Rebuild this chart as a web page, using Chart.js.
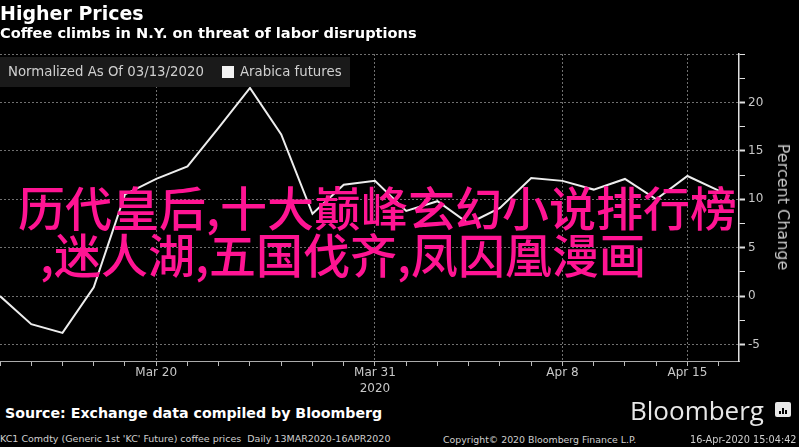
<!DOCTYPE html>
<html><head><meta charset="utf-8">
<script src="https://cdn.jsdelivr.net/npm/chart.js@4/dist/chart.umd.min.js"></script>
<style>
html,body{margin:0;padding:0;background:#000;width:799px;height:447px;overflow:hidden;position:relative;}
#wrap{position:absolute;left:0;top:0;width:799px;height:400px;}
.t{position:absolute;white-space:nowrap;font-family:'DejaVu Sans',sans-serif;line-height:1;}
.pk{position:absolute;white-space:nowrap;font-family:'Noto Sans CJK SC',sans-serif;font-weight:500;font-size:47px;line-height:47px;color:#ff1493;}
</style></head><body>
<div id="wrap"><canvas id="c"></canvas></div>

<div class="t" style="left:0;top:4px;font-size:19px;font-weight:bold;color:#fff">Higher Prices</div>
<div class="t" style="left:0;top:26px;font-size:14.6px;font-weight:bold;color:#fff">Coffee climbs in N.Y. on threat of labor disruptions</div>

<div style="position:absolute;left:0;top:57px;width:350px;height:30px;background:#1a1a1a;"></div>
<div class="t" style="left:8px;top:65px;font-size:13.3px;color:#d0d0d0">Normalized As Of 03/13/2020</div>
<div style="position:absolute;left:222px;top:66px;width:12px;height:12px;background:#f2f2f2;"></div>
<div class="t" style="left:240px;top:65px;font-size:13.3px;color:#d0d0d0">Arabica futures</div>

<div class="t" style="left:783px;top:207px;font-size:16px;color:#c8c8c8;transform:translate(-50%,-50%) rotate(90deg);transform-origin:center;">Percent Change</div>

<div class="t" style="left:5px;top:406px;font-size:14.2px;font-weight:bold;color:#fff">Source: Exchange data compiled by Bloomberg</div>
<div class="t" style="left:0;top:434px;font-size:9.5px;color:#d0d0d0">KC1 Comdty (Generic 1st 'KC' Future) coffee prices&nbsp; Daily 13MAR2020-16APR2020</div>
<div class="t" style="left:630px;top:397px;font-size:26px;font-family:'Open Sans',sans-serif;color:#e8e8e8">Bloomberg</div>
<div style="position:absolute;left:775px;top:402px;width:16px;height:15px;background:#e8e8e8;border-radius:2px;"></div>
<div style="position:absolute;left:779px;top:411px;width:2px;height:3px;background:#000;"></div>
<div style="position:absolute;left:782px;top:408px;width:2px;height:6px;background:#000;"></div>
<div style="position:absolute;left:785px;top:410px;width:2px;height:4px;background:#000;"></div>
<div class="t" style="left:443px;top:435px;font-size:9.4px;color:#d0d0d0">Copyright© 2020 Bloomberg Finance L.P.</div>
<div class="t" style="left:690px;top:435px;font-size:9.7px;color:#d0d0d0">16-Apr-2020 15:04:42</div>

<div class="pk" style="left:18px;top:182px;">历代皇后,十大巅峰玄幻小说排行榜</div>
<div class="pk" style="left:40px;top:229px;">,迷人湖,五国伐齐,凤囚凰漫画</div>

<script>
const dates = ['Mar 13','Mar 16','Mar 17','Mar 18','Mar 19','Mar 20','Mar 23','Mar 24','Mar 25','Mar 26','Mar 27','Mar 30','Mar 31',
  'Apr 1','Apr 2','Apr 3','Apr 6','Apr 7','Apr 8','Apr 9','Apr 13','Apr 14','Apr 15','Apr 16'];
const arabica = [0, -2.9, -3.8, 0.9, 10.5, 12.1, 13.4, 17.4, 21.5, 16.7, 8.5, 11.5, 11.9,
  8.8, 9.8, 7.5, 9.1, 12.2, 11.9, 11.0, 12.1, 10.0, 12.4, 10.9];
const labeledDates = ['Mar 20','Mar 31','Apr 8','Apr 15'];
const yearLabel = {'Mar 31':'2020'};
const yTicks = [-5,-2.5,0,2.5,5,7.5,10,12.5,15,17.5,20,22.5,25];
const yLabeled = [-5,0,5,10,15,20];

const GRID = '#707070';
new Chart(document.getElementById('c'), {
  type:'line',
  data:{datasets:[{label:'Arabica futures', data: arabica.map((v,i)=>({x:i,y:v})),
    borderColor:'#ededed', borderWidth:2, pointRadius:0, tension:0, fill:false}]},
  options:{
    responsive:true, maintainAspectRatio:false, animation:false,
    layout:{padding:{top:54,left:0,right:0,bottom:0}},
    plugins:{legend:{display:false},tooltip:{enabled:false}},
    scales:{
      x:{type:'linear', min:0, max:23.65,
        afterBuildTicks(s){ s.ticks = dates.map((d,i)=>({value:i})); },
        afterFit(s){ s.height = 39; },
        ticks:{autoSkip:false, maxRotation:0, minRotation:0, color:'#c8c8c8', padding:-2,
          font:{family:'DejaVu Sans', size:12, lineHeight:1.4},
          callback(v){ const d = dates[v]; if(!labeledDates.includes(d)) return ''; return yearLabel[d] ? [d, yearLabel[d]] : d; }},
        grid:{color:c=> (c.tick && labeledDates.includes(dates[c.tick.value])) ? GRID : 'rgba(0,0,0,0)',
          tickColor:'#bbbbbb', tickLength:5, lineWidth:1},
        border:{color:'#aaaaaa', width:1, dash:[2,2]}
      },
      y:{position:'right', min:-6.7, max:25,
        afterBuildTicks(s){ s.ticks = yTicks.map(v=>({value:v})); },
        afterFit(s){ s.width = 60; },
        ticks:{color:'#c8c8c8', padding:3, font:{family:'DejaVu Sans', size:12},
          callback(v){ return yLabeled.includes(v) ? String(v) : ''; }},
        grid:{color:c=> (c.tick && (c.tick.value % 5 === 0)) ? GRID : 'rgba(0,0,0,0)',
          tickColor:'#e0e0e0', tickLength:6, tickWidth:c=> (c.tick && yLabeled.includes(c.tick.value)) ? 2 : 1},
        border:{color:'#e0e0e0', width:1.5, dash:[2,2]}
      }
    }
  }
});
</script>
</body></html>
